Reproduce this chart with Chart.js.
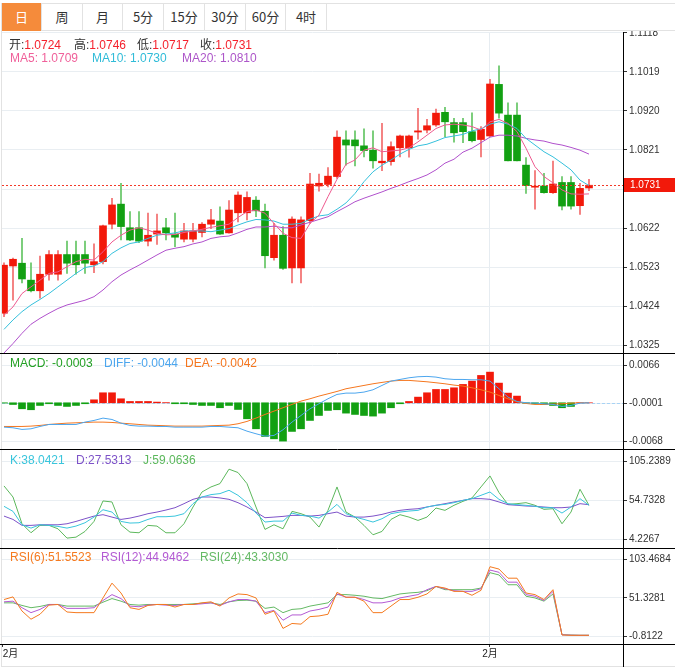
<!DOCTYPE html>
<html>
<head>
<meta charset="utf-8">
<title>K线图</title>
<script src="https://cdn.jsdelivr.net/npm/chart.js@4.4.1/dist/chart.umd.min.js"></script>
<style>
  html, body { margin:0; padding:0; background:#fff; }
  #wrap { position:relative; width:675px; height:672px; overflow:hidden; background:#fff;
          font-family:"Liberation Sans","Noto Sans CJK SC",Arial,sans-serif; }
  #frame { position:absolute; left:1px; top:3px; width:720px; height:664px; border:1px solid #e2e2e2; box-sizing:border-box; }
  #cv { position:absolute; left:0; top:0; z-index:1; }
  #tabs { position:absolute; left:1px; top:3px; width:720px; height:28px; background:#fff; box-sizing:border-box;
          border-top:1px solid #e2e2e2; border-bottom:1px solid #e2e2e2; border-left:1px solid #e2e2e2; z-index:2; }
  .tab { position:absolute; top:0; height:26px; line-height:26px; text-align:center; font-size:13px; color:#333;
         border-right:1px solid #e2e2e2; box-sizing:border-box; font-family:"Noto Sans CJK SC","Liberation Sans",sans-serif; }
  .tab.on { background:#f58b3b; color:#fff; top:-1px; height:28px; line-height:28px; }
  .lg { position:absolute; z-index:3; font-size:12px; line-height:14px; white-space:nowrap; }
</style>
</head>
<body>
<div id="wrap">
  <div id="frame"></div>
  <canvas id="cv" width="675" height="667"></canvas>
  <div id="tabs">
    <div class="tab on" style="left:0;width:40px;">日</div>
    <div class="tab" style="left:40px;width:41px;">周</div>
    <div class="tab" style="left:81px;width:40px;">月</div>
    <div class="tab" style="left:121px;width:41px;">5分</div>
    <div class="tab" style="left:162px;width:41px;">15分</div>
    <div class="tab" style="left:203px;width:41px;">30分</div>
    <div class="tab" style="left:244px;width:40px;">60分</div>
    <div class="tab" style="left:284px;width:41px;">4时</div>
  </div>
  <div class="lg" style="left:9px;top:38px;"><span style="color:#333">开:</span><span style="color:#f5222d">1.0724</span></div>
  <div class="lg" style="left:74px;top:38px;"><span style="color:#333">高:</span><span style="color:#f5222d">1.0746</span></div>
  <div class="lg" style="left:137px;top:38px;"><span style="color:#333">低:</span><span style="color:#f5222d">1.0717</span></div>
  <div class="lg" style="left:200px;top:38px;"><span style="color:#333">收:</span><span style="color:#f5222d">1.0731</span></div>
  <div class="lg" style="left:10px;top:51px;color:#f0609a;">MA5: 1.0709</div>
  <div class="lg" style="left:92px;top:51px;color:#30bcd8;">MA10: 1.0730</div>
  <div class="lg" style="left:182px;top:51px;color:#ad56c9;">MA20: 1.0810</div>
  <div class="lg" style="left:10px;top:356px;color:#23a023;">MACD: -0.0003</div>
  <div class="lg" style="left:104px;top:356px;color:#4ca6ee;">DIFF: -0.0044</div>
  <div class="lg" style="left:185px;top:356px;color:#f5761e;">DEA: -0.0042</div>
  <div class="lg" style="left:10px;top:453px;color:#39c5dc;">K:38.0421</div>
  <div class="lg" style="left:76px;top:453px;color:#7d52c8;">D:27.5313</div>
  <div class="lg" style="left:143px;top:453px;color:#5cb85c;">J:59.0636</div>
  <div class="lg" style="left:10px;top:550px;color:#f57a1f;">RSI(6):51.5523</div>
  <div class="lg" style="left:101px;top:550px;color:#b35ad3;">RSI(12):44.9462</div>
  <div class="lg" style="left:200px;top:550px;color:#64b964;">RSI(24):43.3030</div>
</div>
<script>
// ---------- data ----------
const open = [1.0406,1.0526,1.0533,1.0490,1.0463,1.0505,1.0505,1.0555,1.0555,1.0555,
  1.0529,1.0537,1.0632,1.0683,1.0623,1.0623,1.0589,1.0607,1.0623,1.0607,
  1.0594,1.0594,1.0611,1.0632,1.0640,1.0610,1.0661,1.0661,1.0693,1.0665,
  1.0547,1.0604,1.0521,1.0521,1.0641,1.0729,1.0733,1.0753,1.0846,1.0846,
  1.0831,1.0820,1.0788,1.0791,1.0826,1.0826,1.0866,1.0871,1.0884,1.0916,
  1.0890,1.0890,1.0867,1.0847,1.0856,1.0987,1.0909,1.0909,1.0782,1.0726,
  1.0729,1.0712,1.0738,1.0738,1.0679,1.0724];
const close = [1.0528,1.0543,1.0493,1.0463,1.0505,1.0555,1.0555,1.0533,1.0529,1.0533,
  1.0537,1.0628,1.0681,1.0626,1.0592,1.0589,1.0604,1.0615,1.0610,1.0599,
  1.0615,1.0615,1.0632,1.0643,1.0607,1.0668,1.0706,1.0700,1.0666,1.0552,
  1.0604,1.0520,1.0645,1.0643,1.0734,1.0736,1.0754,1.0853,1.0833,1.0831,
  1.0819,1.0793,1.0792,1.0829,1.0856,1.0856,1.0869,1.0882,1.0914,1.0892,
  1.0864,1.0867,1.0844,1.0873,1.0988,1.0914,1.0793,1.0793,1.0730,1.0727,
  1.0712,1.0734,1.0678,1.0678,1.0723,1.0731];
const high = [1.0534,1.0546,1.0596,1.0534,1.0551,1.0565,1.0565,1.0589,1.0589,1.0589,
  1.0582,1.0630,1.0698,1.0736,1.0664,1.0664,1.0660,1.0658,1.0647,1.0660,
  1.0634,1.0634,1.0636,1.0670,1.0676,1.0692,1.0714,1.0714,1.0702,1.0683,
  1.0634,1.0626,1.0651,1.0651,1.0761,1.0759,1.0776,1.0869,1.0869,1.0869,
  1.0874,1.0869,1.0888,1.0841,1.0858,1.0858,1.0926,1.0898,1.0924,1.0929,
  1.0901,1.0901,1.0915,1.0880,1.1000,1.1034,1.0940,1.0940,1.0801,1.0768,
  1.0761,1.0792,1.0753,1.0753,1.0736,1.0746];
const low = [1.0397,1.0439,1.0483,1.0460,1.0444,1.0490,1.0490,1.0507,1.0505,1.0507,
  1.0509,1.0531,1.0620,1.0592,1.0590,1.0585,1.0577,1.0581,1.0592,1.0575,
  1.0587,1.0587,1.0600,1.0621,1.0606,1.0609,1.0638,1.0643,1.0651,1.0521,
  1.0541,1.0517,1.0483,1.0483,1.0634,1.0716,1.0727,1.0748,1.0782,1.0780,
  1.0803,1.0774,1.0768,1.0782,1.0803,1.0802,1.0848,1.0864,1.0880,1.0854,
  1.0840,1.0839,1.0841,1.0803,1.0855,1.0901,1.0793,1.0793,1.0710,1.0670,
  1.0711,1.0710,1.0668,1.0670,1.0657,1.0717];
const ma5 = [1.0401,1.0422,1.0456,1.0473,1.0490,1.0507,1.0511,1.0524,1.0537,1.0543,
  1.0541,1.0562,1.0587,1.0604,1.0617,1.0623,1.0617,1.0609,1.0605,1.0606,
  1.0611,1.0615,1.0619,1.0624,1.0628,1.0632,1.0649,1.0664,1.0668,1.0660,
  1.0634,1.0609,1.0598,1.0596,1.0634,1.0655,1.0702,1.0746,1.0784,1.0795,
  1.0820,1.0826,1.0816,1.0818,1.0820,1.0826,1.0841,1.0858,1.0875,1.0884,
  1.0886,1.0884,1.0880,1.0871,1.0892,1.0898,1.0888,1.0867,1.0825,1.0778,
  1.0753,1.0737,1.0719,1.0709,1.0708,1.0709];
const ma10 = [1.0365,1.0389,1.0410,1.0427,1.0441,1.0456,1.0473,1.0490,1.0507,1.0522,
  1.0526,1.0537,1.0558,1.0572,1.0583,1.0587,1.0596,1.0604,1.0607,1.0610,
  1.0615,1.0615,1.0615,1.0613,1.0617,1.0621,1.0630,1.0638,1.0644,1.0643,
  1.0640,1.0632,1.0632,1.0634,1.0645,1.0653,1.0656,1.0670,1.0686,1.0710,
  1.0740,1.0765,1.0782,1.0795,1.0810,1.0822,1.0831,1.0835,1.0843,1.0852,
  1.0856,1.0860,1.0869,1.0874,1.0886,1.0892,1.0886,1.0875,1.0850,1.0833,
  1.0816,1.0803,1.0787,1.0770,1.0744,1.0730];
const ma20 = [1.0305,1.0329,1.0355,1.0378,1.0393,1.0406,1.0418,1.0427,1.0433,1.0439,
  1.0448,1.0465,1.0486,1.0503,1.0516,1.0528,1.0541,1.0554,1.0566,1.0571,
  1.0575,1.0582,1.0587,1.0596,1.0600,1.0602,1.0610,1.0619,1.0625,1.0625,
  1.0627,1.0623,1.0623,1.0630,1.0637,1.0644,1.0651,1.0664,1.0676,1.0689,
  1.0698,1.0706,1.0714,1.0723,1.0731,1.0740,1.0748,1.0757,1.0770,1.0787,
  1.0797,1.0815,1.0825,1.0839,1.0853,1.0858,1.0858,1.0856,1.0850,1.0846,
  1.0843,1.0837,1.0833,1.0827,1.0820,1.0810];
const macd = [-0.00005,-0.0003,-0.00105,-0.00122,-0.00047,-0.00017,-0.00047,-0.00064,-0.00047,-0.00017,
  0.00052,0.00175,0.00175,0.0007,0.00023,0.00023,0.00023,0.00012,0.00003,-0.00017,
  -0.00017,-0.0003,-0.00047,-0.00047,-0.00087,-0.00047,-0.00117,-0.0028,-0.00455,-0.00589,
  -0.0063,-0.0067,-0.00501,-0.00455,-0.00309,-0.00222,-0.00134,-0.00122,-0.00181,-0.00204,
  -0.00222,-0.00233,-0.00181,-0.00087,-0.00017,0.00023,0.00099,0.00175,0.00233,0.00233,
  0.00262,0.00321,0.00379,0.00478,0.00536,0.00344,0.00169,0.00117,-0.00005,-0.00017,
  -0.0003,-0.00047,-0.00087,-0.00064,0,0];
const diff = [-0.00426,-0.00437,-0.00466,-0.00455,-0.00414,-0.00379,-0.00379,-0.00379,-0.00379,-0.00338,
  -0.00309,-0.00268,-0.00292,-0.00356,-0.00396,-0.00408,-0.00408,-0.00414,-0.00414,-0.00426,
  -0.00426,-0.00426,-0.00426,-0.00414,-0.00414,-0.00426,-0.00437,-0.00496,-0.00542,-0.00583,
  -0.00571,-0.00472,-0.00338,-0.00222,-0.00105,-0.00017,0.0007,0.00146,0.00169,0.00169,
  0.00187,0.00227,0.00303,0.00379,0.00408,0.00437,0.00455,0.00461,0.00449,0.0042,
  0.00408,0.00408,0.00402,0.00402,0.00379,0.00245,0.00099,0.00023,0,-0.00006,
  -0.00017,-0.00029,-0.00064,-0.00047,-0.00006,0];
const dea = [-0.00414,-0.00414,-0.00414,-0.00408,-0.00396,-0.00379,-0.00367,-0.00356,-0.0035,-0.00344,
  -0.00338,-0.00338,-0.00344,-0.00356,-0.00367,-0.00379,-0.00391,-0.00396,-0.00402,-0.00408,
  -0.00408,-0.00408,-0.00408,-0.00402,-0.00396,-0.00391,-0.00367,-0.00326,-0.00268,-0.00204,
  -0.00146,-0.00087,-0.00029,0.00029,0.0007,0.00117,0.00157,0.00198,0.00245,0.00274,
  0.00303,0.00332,0.00356,0.00379,0.00391,0.00391,0.00379,0.00367,0.0035,0.00332,
  0.00309,0.00292,0.00262,0.00227,0.00187,0.00128,0.0007,0.00017,-0.00012,-0.00029,
  -0.00029,-0.00023,-0.00017,-0.00006,0,0];
const kLine = [47.0,40.5,23.2,18.9,23.2,22.4,21.1,18.9,21.5,25.8,
  33.1,42.6,39.6,27.5,25.4,25.8,30.1,33.6,33.6,34.4,
  37.5,50.4,59.0,62.1,63.4,67.7,61.2,51.7,38.3,26.7,
  27.9,27.9,38.3,35.3,34.4,31.8,39.6,49.5,37.5,33.1,
  30.1,26.7,31.0,37.5,39.6,40.9,41.8,46.1,48.3,49.5,
  51.7,54.7,56.9,61.2,65.5,56.0,50.4,49.1,48.3,47.0,
  45.2,45.2,38.3,46.1,56.9,48.3];
const dLine = [34.4,30.1,22.4,22.4,23.2,23.2,23.2,24.5,27.5,31.0,
  34.4,36.2,33.1,30.1,31.8,34.4,37.5,39.6,42.2,45.2,
  50.4,56.0,59.0,59.0,57.8,56.0,51.7,46.1,39.6,32.3,
  33.1,34.0,35.3,35.3,34.4,35.3,37.5,39.6,34.4,33.1,
  33.1,34.4,36.6,39.6,41.8,43.1,43.9,46.1,48.3,50.4,
  52.6,54.7,56.9,56.9,56.0,52.6,49.1,48.3,47.4,47.0,
  46.1,45.2,45.2,46.1,50.4,49.1];
const jLine = [73.3,59.0,24.5,12.9,22.4,22.4,18.0,6.0,7.2,14.6,
  27.5,53.9,52.6,23.2,13.7,12.9,22.4,21.5,12.9,12.9,
  24.5,46.1,65.5,72.0,76.3,94.9,90.6,76.3,46.1,17.2,
  23.2,18.0,40.5,37.5,33.1,20.2,41.8,72.0,39.6,33.1,
  22.4,10.3,14.6,30.1,36.2,33.1,28.8,33.1,44.8,41.8,
  48.3,53.4,57.8,72.0,86.2,64.7,49.5,50.4,51.7,48.3,
  43.1,43.9,24.5,39.6,69.0,48.3];
const rsi6 = [49.1,52.7,33.5,22.4,29.1,41.5,42.4,32.2,31.3,31.3,
  31.3,51.3,71.4,58.0,38.0,35.7,41.1,42.4,42.4,38.9,
  42.4,42.4,44.6,46.0,40.2,51.3,56.7,55.8,51.3,29.1,
  33.5,9.9,16.6,15.7,25.9,26.8,29.1,58.9,52.2,52.2,
  46.9,31.3,31.3,40.2,49.1,49.1,52.2,56.7,66.9,64.7,
  60.2,60.2,54.9,61.6,93.7,90.5,78.1,78.1,58.0,55.8,
  49.1,62.5,1.0,0.5,0.5,0.5];
const rsi12 = [46.0,46.9,38.0,31.3,35.7,42.4,42.4,37.1,37.1,37.1,
  38.0,47.8,55.8,50.4,40.2,39.3,41.5,42.4,41.5,41.1,
  42.4,42.4,43.3,44.6,41.1,46.0,49.1,49.1,46.9,31.3,
  34.4,21.0,28.2,28.2,33.5,35.7,38.9,56.7,52.2,52.2,
  49.1,44.6,44.6,46.9,51.3,53.6,55.8,62.5,66.9,63.8,
  61.1,60.2,60.2,63.8,89.2,86.1,72.7,72.7,55.8,53.6,
  47.8,60.2,1.2,0.7,0.5,0.5];
const rsi24 = [44.6,44.6,41.1,38.0,39.7,42.4,42.4,40.2,40.2,40.2,
  40.2,45.5,50.4,46.9,42.4,41.5,42.4,42.4,42.4,42.4,
  42.4,43.3,44.2,44.6,42.4,46.0,47.8,48.2,46.9,37.1,
  38.9,31.3,35.7,36.6,40.2,42.4,44.6,55.8,55.8,54.9,
  53.6,51.3,50.4,53.6,56.7,58.0,58.9,61.1,66.9,62.5,
  62.5,62.5,62.5,64.7,85.6,82.5,69.2,69.2,53.6,51.3,
  46.9,56.7,1.4,0.9,0.6,0.6];
const priceTicks = [1.0325,1.0424,1.0523,1.0622,1.0721,1.0821,1.0920,1.1019,1.1118];
const macdTicks = [0.0066,-0.0001,-0.0068];
const kdjTicks = [105.2389,54.7328,4.2267];
const rsiTicks = [103.4684,51.3281,-0.8122];
const xTickLabels = ['2月','2月',''];
const xTickIndex = [-0.15, 54, 68.778];

// ---------- styling ----------
const RED = '#f2190a', GREEN = '#12a012', RED_W = '#f26a6a', GREEN_W = '#62c462';
const FONT = '"Liberation Sans","Noto Sans CJK SC",Arial,sans-serif';
Chart.defaults.font.family = FONT;
const idx = close.map((_, i) => i);
const pts = arr => arr.map((v, i) => ({x: i, y: v}));
const line = (label, arr, color, axis) => ({type: 'line', label, data: pts(arr), yAxisID: axis,
  borderColor: color, borderWidth: 1, pointRadius: 0, tension: 0, order: 0});

function yAxis(min, max, ticks, weight) {
  return {
    type: 'linear', position: 'right', stack: 'panels', stackWeight: weight, min, max, offset: false,
    afterBuildTicks: s => { s.ticks = ticks.map(v => ({value: v})); },
    afterFit: s => { s.width = 52; s.paddingTop = 0; s.paddingBottom = 0; },
    grid: {color: '#e9eef2', lineWidth: 1, drawTicks: true, tickLength: 4, tickColor: '#333', tickWidth: 1, offset: false},
    border: {display: true, color: '#000', width: 1},
    ticks: {color: '#333', font: {size: 10}, padding: 2, autoSkip: false, callback: v => Number(v).toFixed(4)}
  };
}

const lastClose = close[close.length - 1];

const overlay = {
  id: 'overlay',
  beforeDatasetsDraw(chart) {
    const {ctx, chartArea} = chart;
    const y0 = Math.round(chart.scales.yMacd.getPixelForValue(0)) + 0.5;
    ctx.save();
    ctx.strokeStyle = '#a8d3f5'; ctx.lineWidth = 1; ctx.setLineDash([3, 2]);
    ctx.beginPath(); ctx.moveTo(chartArea.left, y0); ctx.lineTo(chartArea.right, y0); ctx.stroke();
    ctx.restore();
  },
  afterDatasetsDraw(chart) {
    const {ctx, chartArea} = chart;
    const y = Math.round(chart.scales.yMain.getPixelForValue(lastClose)) + 0.5;
    ctx.save();
    ctx.strokeStyle = '#f23a2a'; ctx.lineWidth = 1; ctx.setLineDash([2, 2]);
    ctx.beginPath(); ctx.moveTo(chartArea.left, y); ctx.lineTo(chartArea.right, y); ctx.stroke();
    ctx.restore();
  },
  afterDraw(chart) {
    const {ctx, chartArea, scales} = chart;
    const W = chart.width;
    ctx.save();
    ctx.strokeStyle = '#000'; ctx.lineWidth = 1;
    [scales.yMacd.top, scales.yKdj.top, scales.yRsi.top, scales.yRsi.bottom].forEach(t => {
      const y = Math.round(t) + 0.5;
      ctx.beginPath(); ctx.moveTo(0, y); ctx.lineTo(W, y); ctx.stroke();
    });
    const ax = Math.round(chartArea.right) + 0.5;
    ctx.beginPath(); ctx.moveTo(ax, chartArea.bottom); ctx.lineTo(ax, chart.height); ctx.stroke();
    // last price tag
    const yv = scales.yMain.getPixelForValue(lastClose);
    ctx.fillStyle = RED;
    ctx.fillRect(chartArea.right + 1, Math.round(yv) - 7, W - chartArea.right, 14);
    ctx.fillStyle = '#fff';
    ctx.font = '10px ' + FONT;
    ctx.textBaseline = 'middle';
    ctx.fillText(lastClose.toFixed(4), chartArea.right + 7, yv + 0.5);
    ctx.restore();
  }
};

new Chart(document.getElementById('cv'), {
  type: 'bar',
  data: {
    datasets: [
      line('MA5', ma5, '#ee5a8f', 'yMain'),
      line('MA10', ma10, '#35c0dc', 'yMain'),
      line('MA20', ma20, '#b050cc', 'yMain'),
      {type: 'bar', label: 'body', data: idx.map(i => ({x: i, y: [open[i], close[i]]})), yAxisID: 'yMain',
        backgroundColor: idx.map(i => close[i] >= open[i] ? RED : GREEN), barThickness: 7, grouped: false, minBarLength: 1, order: 1},
      {type: 'bar', label: 'wick', data: idx.map(i => ({x: i, y: [low[i], high[i]]})), yAxisID: 'yMain',
        backgroundColor: idx.map(i => close[i] >= open[i] ? RED_W : GREEN_W), barThickness: 1, grouped: false, order: 2},
      {type: 'bar', label: 'MACD', data: pts(macd), yAxisID: 'yMacd',
        backgroundColor: macd.map(v => v >= 0 ? RED : GREEN), barThickness: 7, grouped: false, order: 1},
      line('DIFF', diff, '#4ca6ee', 'yMacd'),
      line('DEA', dea, '#f5761e', 'yMacd'),
      line('K', kLine, '#39c5dc', 'yKdj'),
      line('D', dLine, '#7d52c8', 'yKdj'),
      line('J', jLine, '#5cb85c', 'yKdj'),
      line('RSI6', rsi6, '#f57a1f', 'yRsi'),
      line('RSI12', rsi12, '#b35ad3', 'yRsi'),
      line('RSI24', rsi24, '#64b964', 'yRsi')
    ]
  },
  options: {
    responsive: false, animation: false, events: [],
    layout: {padding: {top: 32, left: 2, right: 0, bottom: 0}},
    plugins: {legend: {display: false}, tooltip: {enabled: false}},
    scales: {
      x: {
        type: 'linear', position: 'bottom', min: -0.222, max: 68.778, offset: false,
        afterBuildTicks: s => { s.ticks = xTickIndex.map(v => ({value: v})); },
        afterFit: s => { s.height = 23; s.paddingLeft = 0; s.paddingRight = 0; },
        grid: {offset: false, color: c => c.index === 1 ? '#e6ecf1' : 'rgba(0,0,0,0)',
               tickColor: c => c.index === 2 ? 'rgba(0,0,0,0)' : '#333', tickLength: 3, drawTicks: true},
        border: {display: true, color: '#000'},
        ticks: {align: 'inner', autoSkip: false, maxRotation: 0, minRotation: 0, padding: 1, color: '#222',
                font: {size: 10}, callback: (v, i) => xTickLabels[i]}
      },
      yMain: yAxis(1.0305, 1.1120, priceTicks, 320.7),
      yMacd: yAxis(-0.0081, 0.0087, macdTicks, 96),
      yKdj: yAxis(-6.65, 120.8, kdjTicks, 98.7),
      yRsi: yAxis(-11.28, 119.24, rsiTicks, 96)
    }
  },
  plugins: [overlay]
});
</script>
</body>
</html>
